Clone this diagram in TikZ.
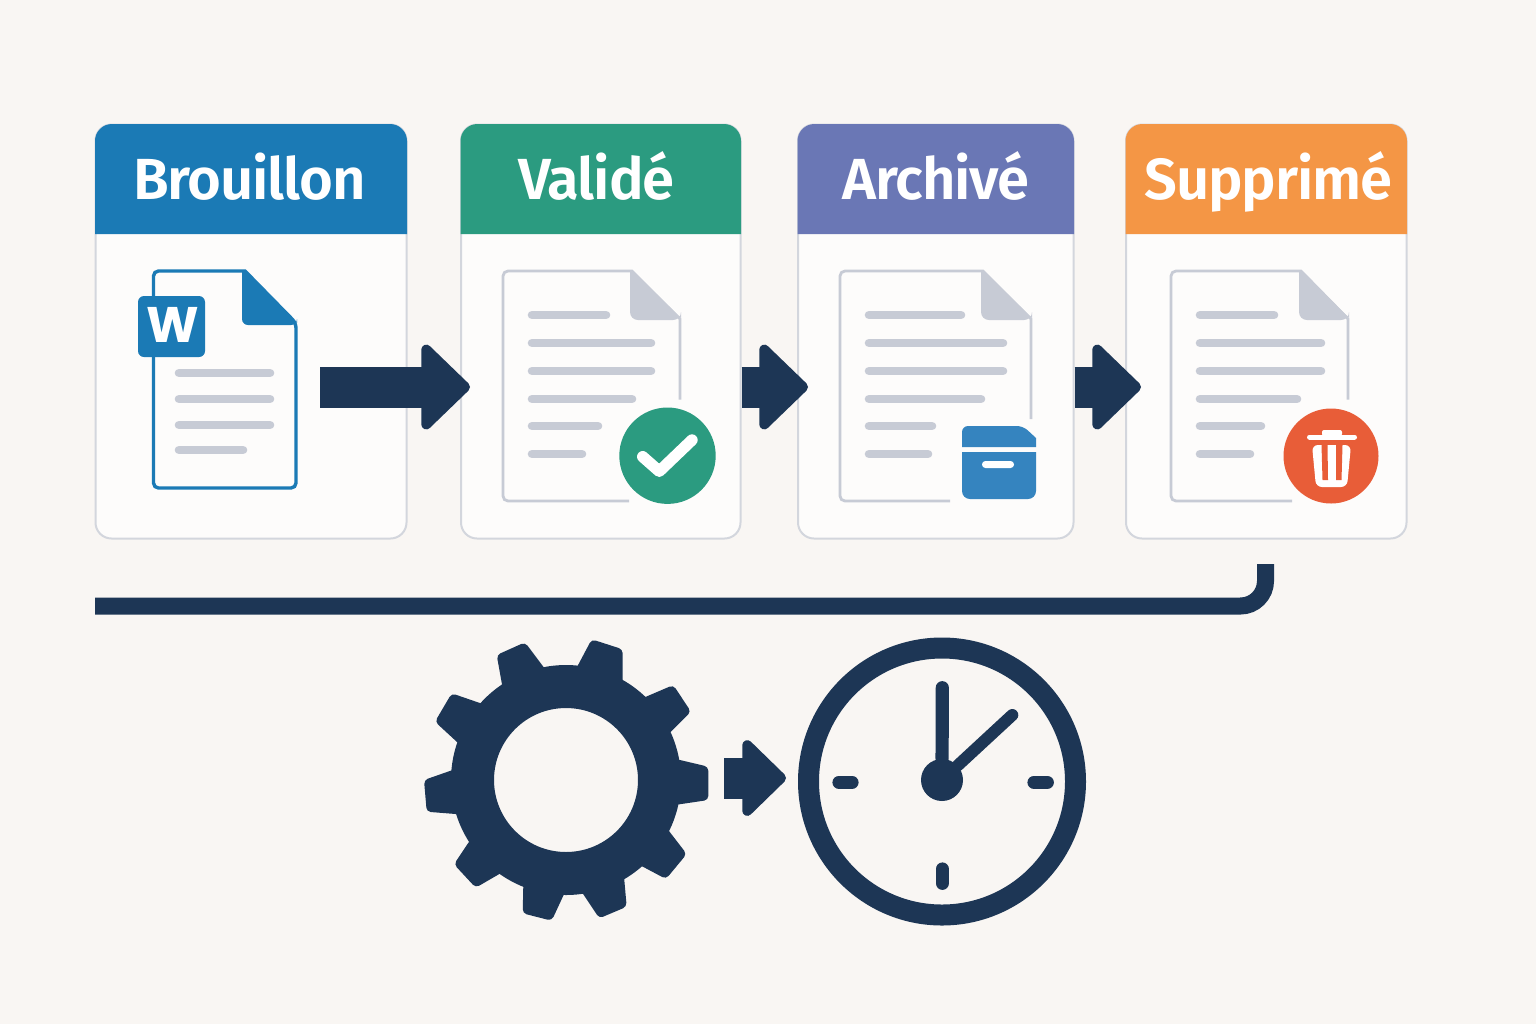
\documentclass[tikz,border=0pt]{standalone}
\usepackage{fontspec}
\setmainfont{Fira Sans}
\newfontfamily\headfont[LetterSpace=-2]{Fira Sans SemiBold}
\newfontfamily\wordfont{Poppins}
\usetikzlibrary{arrows.meta, calc}
\definecolor{paper}{HTML}{F9F6F3}
\definecolor{cardwhite}{HTML}{FDFCFB}
\definecolor{cardedge}{HTML}{D3D6DD}
\definecolor{navy}{HTML}{1D3655}
\definecolor{wordblue}{HTML}{1B7AB5}
\definecolor{okgreen}{HTML}{2B9B80}
\definecolor{violet}{HTML}{6A77B5}
\definecolor{orange}{HTML}{F49645}
\definecolor{docgrey}{HTML}{C7CBD5}
\definecolor{boxblue}{HTML}{3584BF}
\definecolor{binred}{HTML}{E85D38}

\begin{document}
\begin{tikzpicture}[
    x=0.5pt,y=-0.5pt,
    card/.style={draw=cardedge, line width=1pt, fill=cardwhite, rounded corners=8pt, inner sep=0pt},
    title/.style={anchor=base, text=white, font=\headfont\fontsize{29}{29}\selectfont, inner sep=0pt},
    docedge/.style={line width=1.4pt, draw=docgrey, rounded corners=2.5pt},
    docline/.style={line width=4.3pt, draw=docgrey, line cap=round},
    blockarrow/.style={line width=20.5pt, draw=navy, -{Triangle[length=25.5pt, width=48pt, line width=5pt, round, fill=navy]}},
    smallarrow/.style={line width=20.5pt, draw=navy, -{Triangle[length=23pt, width=43.5pt, line width=5pt, round, fill=navy]}},
    trackline/.style={line width=8.5pt, draw=navy, rounded corners=12.5pt},
    hand/.style={line width=6.6pt, draw=navy, line cap=round}
]
\fill[paper] (0,0) rectangle (1536,1024);
% draw the cards
\foreach \stage/\xa/\xb/\xt/\col/\txt in {brouillon/95/407/249.5/wordblue/Brouillon, valide/460.5/741/596.5/okgreen/Validé, archive/797.5/1074/936/violet/Archivé, supprime/1125.5/1407/1268.5/orange/Supprimé} {
  \node[card, minimum width={(\xb-\xa-1)*0.5pt}, minimum height=207pt] (\stage) at ({(\xa+\xb)/2},331.5) {};
  \filldraw[\col, line width=1pt] (\xa+1,233) [rounded corners=8pt] -- (\xa+1,125) -- (\xb-1,125) [sharp corners] -- (\xb-1,233) -- cycle;
  \node[title] (\stage-title) at (\xt,199) {\txt};
}
% the word document
\draw[docedge, line width=1.7pt, draw=wordblue, fill=cardwhite] (245,271) -- (153.5,271) -- (153.5,488) -- (296,488) -- (296,323) [sharp corners] -- cycle;
\fill[wordblue, rounded corners=3pt] (242,270) -- (242,325) -- (297,325) [sharp corners] -- (297,323) -- (245,270) -- cycle;
\fill[wordblue, rounded corners=3pt] (138,296) rectangle (205,357);
\node[inner sep=0pt, anchor=base, text=white, font=\wordfont\bfseries\fontsize{25}{25}\selectfont] (wordmark) at (172.5,342) {W};
\foreach \y/\xe in {373/274, 399/274, 425/274, 450/247}
  \draw[docline] (179,\y) -- (\xe-4,\y);
% the grey documents
\foreach \xl/\xr/\xf/\yend/\xend in {503/680/630/399.5/629, 840/1031/981/419/950, 1171/1348/1299/399.5/1292} {
  \draw[docedge] (\xr,\yend) [sharp corners] -- (\xr,319) -- (\xf+2,271) [rounded corners=2.5pt] -- (\xl,271) -- (\xl,501) [sharp corners] -- (\xend,501);
  \fill[docgrey, rounded corners=4pt] (\xf,270) -- (\xf,320) -- (\xr+1,320) [sharp corners] -- (\xr+1,318) -- (\xf+2,270) -- cycle;
}
\foreach \xs/\xe/\y in {528/610/315, 528/655/343, 528/655/371, 528/636/399, 528/602/426, 528/586/454,
    865/965/315, 865/1007/343, 865/1007/371, 865/985/399, 865/936/426, 865/932/454,
    1196/1278/315, 1196/1325/343, 1196/1325/371, 1196/1301/399, 1196/1265/426, 1196/1254/454}
  \draw[docline] (\xs+4,\y) -- (\xe-4,\y);
% the check badge
\node[circle, fill=okgreen, minimum size=48.2pt, inner sep=0pt] (okbadge) at (667.5,455.7) {};
\draw[line width=5.7pt, draw=white, line cap=round, line join=round] (642.7,456.7) -- (659.3,471.3) -- (692,440);
% the archive box
\fill[boxblue, rounded corners=3pt] (962,447) -- (962,426) -- (1023,426) [sharp corners] -- (1036,438) -- (1036,447) -- cycle;
\fill[boxblue, rounded corners=3pt] (962,452) [sharp corners] -- (962,452) [rounded corners=4pt] -- (962,499) -- (1036,499) [sharp corners] -- (1036,452) -- cycle;
\fill[white, rounded corners=1.7pt] (982,461) rectangle (1014,468);
% the bin badge
\node[circle, fill=binred, minimum size=47.5pt, inner sep=0pt] (binbadge) at (1331,456) {};
\draw[line width=2.5pt, draw=white, line cap=round] (1309.5,437) -- (1354.5,437);
\fill[white, rounded corners=1pt] (1322,436) -- (1322,430) -- (1342,430) -- (1342,436) -- cycle;
\fill[white, rounded corners=3pt] (1312,445) -- (1316,487) -- (1347,487) -- (1351,445) -- cycle;
\fill[binred] (1321.5,445) -- (1322.5,480) -- (1328,480) -- (1327.5,445) -- cycle;
\fill[binred] (1336,445) -- (1336,480) -- (1341.5,480) -- (1342.5,445) -- cycle;
% draw the arrows
\coordinate (draft tail) at (320,387);
\coordinate (tip1) at (470,387);
\coordinate (tip2) at (808,387);
\coordinate (tip3) at (1141,387);
\draw[blockarrow] (draft tail) -- (tip1);
\draw[blockarrow] (valide.east |- tip2) -- (tip2);
\draw[blockarrow] (archive.east |- tip3) -- (tip3);
% the long line
\coordinate (track start) at (95,606);
\coordinate (track end) at (1265.5,564);
\draw[trackline] (track start) -| (track end);
% the gear
\coordinate (gear) at (566,780);
\foreach \ax/\ay/\bx/\by/\cx/\cy/\dx/\dy in {501.7/682.7/496.7/655/525/642.3/543.3/666.7,
    577.7/665.7/591.7/639.3/622.7/649.3/622.7/679.3, 646/696.7/673.3/685/691/711.7/671/731.7,
    680/760/708.3/766.7/708.3/800/679.3/804.3, 670/832.3/686.7/854/666/879/644/867.3,
    624.3/880/626.7/906.7/599.3/918.3/583.3/894.3, 563.3/895.7/551.7/920.7/522.7/913.3/523.3/886,
    499.3/874/475.7/887.7/454/864.3/468.7/842.3, 455.7/814/426.7/811.7/424/780/450.7/770.7,
    456.7/741.7/435/721.7/451.7/693.3/479/702.7}
  \fill[navy] ($(\bx,\by)!1.4!(\ax,\ay)$) [rounded corners=2pt] -- (\bx,\by) -- (\cx,\cy) [sharp corners] -- ($(\cx,\cy)!1.4!(\dx,\dy)$) -- cycle;
\node[circle, draw=navy, line width=21.5pt, fill=paper, minimum size=93.5pt, inner sep=0pt] (gearhole) at (gear) {};
% the clock
\node[circle, draw=navy, line width=10.5pt, minimum size=133.5pt, inner sep=0pt] (clock) at (942,781.5) {};
\node[circle, fill=navy, minimum size=21pt, inner sep=0pt] (hub) at (942,780) {};
\coordinate (hand long) at (942.3,687.7);
\coordinate (hand short) at (1012.3,715);
\draw[hand] (hub) -- (hand long);
\draw[hand, line width=6pt] (hub) -- (hand short);
\coordinate (tick w1) at (839,782.3);
\coordinate (tick w2) at (852,782.3);
\coordinate (tick e1) at (1034,782.3);
\coordinate (tick e2) at (1047.3,782.3);
\coordinate (tick s1) at (942.3,869);
\coordinate (tick s2) at (942.3,883.3);
\draw[hand] (tick w1) -- (tick w2);
\draw[hand] (tick e1) -- (tick e2);
\draw[hand] (tick s1) -- (tick s2);
\coordinate (arrow tail) at (724,778);
\coordinate (arrow tip) at (786,778);
\draw[smallarrow] (arrow tail) -- (arrow tip);
\end{tikzpicture}
\end{document}
